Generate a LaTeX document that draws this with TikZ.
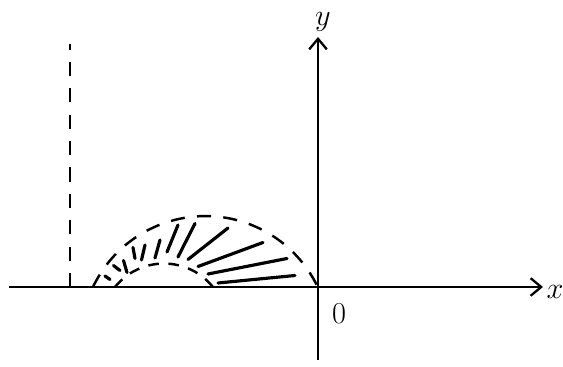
\documentclass[tikz,border=0pt]{standalone}
\usetikzlibrary{arrows.meta}
\tikzset{
  axis/.style={line width=1.3pt, -{Straight Barb[length=6pt,width=10pt,line width=1.3pt]}},
  ray/.style={line width=1.8pt, line cap=round},
  dsh/.style={line width=1.4pt, dash pattern=on 8pt off 7pt},
  dshsmall/.style={line width=1.4pt, dash pattern=on 6pt off 5.5pt},
  lbl/.style={inner sep=0pt}
}
\begin{document}
\begin{tikzpicture}
  \useasboundingbox (-6.36,-1.6) rectangle (4.9,5.74);
  \draw[axis] (-6.18,0) -- (4.5,0);
  \draw[axis] (0,-1.46) -- (0,5.0);
  \node[lbl, font=\LARGE] (xlab) at (4.74,-0.1) {$x$};
  \node[lbl, font=\LARGE] (ylab) at (0.1,5.3) {$y$};
  \node[lbl, font=\LARGE] (orig) at (0.42,-0.53) {0};
  % vertical dashed line and the two arcs
  \draw[dsh] (-4.96,0) -- (-4.96,4.85);
  \draw[dsh] (-4.5,0) arc[start angle=154.5, end angle=25.5, radius=2.49];
  \draw[dshsmall] (-4.06,0) arc[start angle=141.2, end angle=38.8, radius=1.257];
  % rays between the arcs
  \foreach \xa/\ya/\xb/\yb in {-4.16/0.15/-4.26/0.22, -3.96/0.33/-4.09/0.43,
      -3.82/0.29/-3.89/0.53, -3.66/0.57/-3.70/0.79, -3.53/0.54/-3.46/0.84,
      -3.26/0.58/-3.16/0.94, -3.02/0.70/-2.80/1.24, -2.80/0.60/-2.46/1.27,
      -2.60/0.55/-1.80/1.18, -2.40/0.41/-1.10/0.89, -2.20/0.26/-0.62/0.57,
      -2.00/0.08/-0.46/0.23}
    \draw[ray] (\xa,\ya) -- (\xb,\yb);
\end{tikzpicture}
\end{document}
